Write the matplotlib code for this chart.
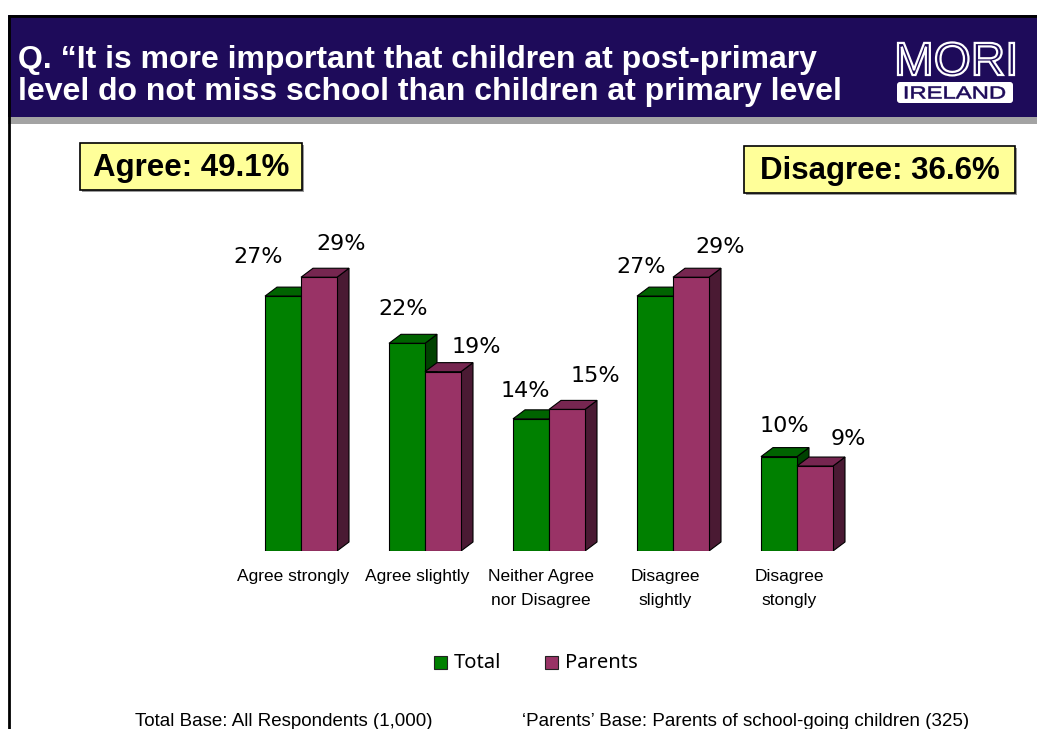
import numpy as np
import matplotlib
matplotlib.use("Agg")
from matplotlib import pyplot as plt
from matplotlib.patches import Rectangle, Polygon, PathPatch, FancyBboxPatch
from matplotlib.textpath import TextPath
from matplotlib.font_manager import FontProperties
from matplotlib.transforms import Affine2D

categories = ["Agree strongly", "Agree slightly", "Neither Agree\nnor Disagree",
              "Disagree\nslightly", "Disagree\nstongly"]
total = [27, 22, 14, 27, 10]
parents = [29, 19, 15, 29, 9]
series_names = ["Total", "Parents"]

title_lines = ["Q. \u201cIt is more important that children at post-primary",
               "level do not miss school than children at primary level"]
agree_text = "Agree: 49.1%"
disagree_text = "Disagree: 36.6%"
base_left = "Total Base: All Respondents (1,000)"
base_right = "\u2018Parents\u2019 Base: Parents of school-going children (325)"

W, H = 1037, 729
fig = plt.figure(figsize=(W / 100, H / 100), dpi=100)

# full page axes in pixel coordinates for the slide furniture
bg = fig.add_axes([0, 0, 1, 1])
bg.set_xlim(0, W)
bg.set_ylim(H, 0)
bg.axis("off")

navy = "#1e0b5a"
bg.add_patch(Rectangle((8, 15), W, 102, facecolor=navy, edgecolor="none"))
bg.add_patch(Rectangle((8, 117), W, 7, facecolor="#a3a3a3", edgecolor="none"))
bg.plot([8, W], [15.5, 15.5], color="black", lw=2, solid_capstyle="butt")
bg.plot([8.5, 8.5], [15, H], color="black", lw=2, solid_capstyle="butt")

for yb, line in zip([68, 100], title_lines):
    bg.text(18, yb, line, color="white", fontsize=23, fontweight="bold",
            family="Liberation Sans", va="baseline")


def stretched_text(txt, x0, x1, y_base, cap_h, **kw):
    # text path scaled to fill a given width / cap height (y axis points down)
    prop = FontProperties(family="Liberation Sans", weight=kw.pop("weight", "normal"))
    tp = TextPath((0, 0), txt, size=1, prop=prop)
    ext = tp.get_extents()
    sx = (x1 - x0) / ext.width
    sy = cap_h / ext.height
    tr = Affine2D().translate(-ext.x0, 0).scale(sx, -sy).translate(x0, y_base)
    bg.add_patch(PathPatch(tr.transform_path(tp), **kw))


# logo
stretched_text("MORI", 898, 1014, 75, 33, facecolor=navy, edgecolor="white", lw=1.6)
bg.add_patch(FancyBboxPatch((897, 82), 116, 21, boxstyle="round,pad=0,rounding_size=3",
                            facecolor="white", edgecolor="none"))
stretched_text("IRELAND", 905, 1005, 98.5, 12, facecolor=navy, edgecolor=navy, lw=0.4)


# summary boxes
def callout(x0, y0, w, h, txt):
    bg.add_patch(Rectangle((x0 + 2, y0 + 2), w, h, facecolor="#9a9a9a", edgecolor="none"))
    bg.add_patch(Rectangle((x0, y0), w, h, facecolor="#ffff99", edgecolor="black", lw=1.2))
    bg.text(x0 + w / 2, y0 + h / 2 + 1, txt, fontsize=22.5, fontweight="bold",
            family="Liberation Sans", ha="center", va="center")


callout(80, 143, 222, 47, agree_text)
callout(744, 146, 271, 47, disagree_text)

# bar chart
px_per_pct = 9.44
gap_px = 124
ax_left, ax_right = 239, 859
ymax = 34
ax_h = ymax * px_per_pct
ax = fig.add_axes([ax_left / W, (H - 551) / H, (ax_right - ax_left) / W, ax_h / H])
ax.set_xlim(-0.5, 4.5)
ax.set_ylim(0, ymax)
ax.axis("off")

bw = 36 / gap_px
dx = 12 / gap_px
dy = 9 / px_per_pct
face = {"Total": ("#008000", "#006300", "#004200"),
        "Parents": ("#993366", "#762650", "#4a1a33")}

x = np.arange(len(categories))
for name, vals, off in [("Total", total, -bw), ("Parents", parents, 0.0)]:
    front, top, side = face[name]
    for xi, v in zip(x, vals):
        x0 = xi + off
        ax.add_patch(Polygon([(x0 + bw, 0), (x0 + bw + dx, dy), (x0 + bw + dx, v + dy),
                              (x0 + bw, v)], facecolor=side, edgecolor="black", lw=0.8))
        ax.add_patch(Polygon([(x0, v), (x0 + dx, v + dy), (x0 + bw + dx, v + dy),
                              (x0 + bw, v)], facecolor=top, edgecolor="black", lw=0.8))
    ax.bar(x + off, vals, width=bw, align="edge", color=front, edgecolor="black",
           lw=0.8, label=name)

# value labels sit where they were dragged to on the slide (pixel nudges)
total_lab_dx = [-43, -22, -24, -32, -13]
total_lab_dy = [33, 28, 22, 23, 25]
parent_lab_dx = [40, 51, 46, 47, 51]
parent_lab_dy = [27, 19, 27, 24, 21]
for vals, ldx, ldy in [(total, total_lab_dx, total_lab_dy),
                       (parents, parent_lab_dx, parent_lab_dy)]:
    for xi, v, ox, oy in zip(x, vals, ldx, ldy):
        ax.text(xi + ox / gap_px, v + oy / px_per_pct, f"{v}%", fontsize=16,
                family="DejaVu Sans", ha="center", va="baseline")

for xi, c in zip(x, categories):
    ax.text(xi - 8 / gap_px, -1.9, c, fontsize=12.5, family="Liberation Sans",
            ha="center", va="top", linespacing=1.75)

# legend
leg_items = [(434, "#008000", series_names[0]), (545, "#993366", series_names[1])]
for lx, col, lab in leg_items:
    bg.add_patch(Rectangle((lx, 656), 13, 13, facecolor=col, edgecolor="#222222", lw=0.8))
    bg.text(lx + 20, 662.5, lab, fontsize=14.5, family="Noto Sans", va="center")

bg.text(284, 726, base_left, fontsize=13.5, family="Liberation Sans", ha="center",
        va="baseline")
bg.text(746, 726, base_right, fontsize=13.5, family="Liberation Sans", ha="center",
        va="baseline")

fig.savefig("out.png", dpi=100)
